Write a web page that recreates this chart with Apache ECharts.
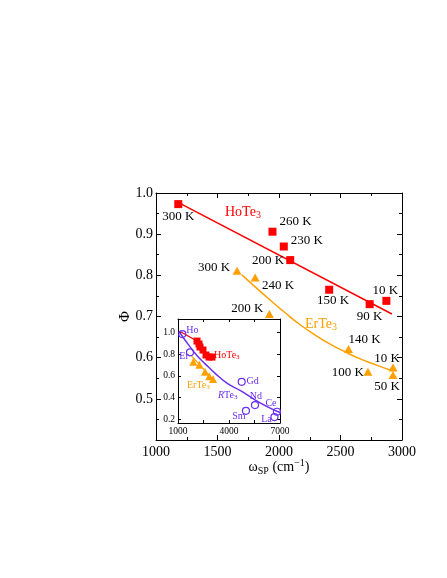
<!DOCTYPE html>
<html>
<head>
<meta charset="utf-8">
<script src="https://cdn.jsdelivr.net/npm/echarts@6/dist/echarts.min.js"></script>
<style>
  html, body { margin: 0; padding: 0; background: #fff; }
  #chart { width: 447px; height: 578px; }
</style>
</head>
<body>
<div id="chart"></div>
<script>
// main panel: HoTe3 (squares) and ErTe3 (triangles)
const hoTemps = ['300 K', '260 K', '230 K', '200 K', '150 K', '90 K', '10 K'];
const hoOmega = [1181, 1947, 2039, 2091, 2408, 2737, 2873];
const hoPhi = [0.973, 0.906, 0.870, 0.837, 0.765, 0.730, 0.738];
const hoFitOmega = [1195, 2918];
const hoFitPhi = [0.975, 0.706];

const erTemps = ['300 K', '240 K', '200 K', '140 K', '100 K', '10 K', '50 K'];
const erOmega = [1659, 1806, 1922, 2565, 2723, 2927, 2927];
const erPhi = [0.811, 0.795, 0.706, 0.621, 0.566, 0.576, 0.558];
const erFitOmega = [1698, 1806, 1928, 2050, 2172, 2294, 2416, 2538, 2660, 2782, 2921];
const erFitPhi = [0.801, 0.772, 0.740, 0.709, 0.680, 0.655, 0.633, 0.614, 0.597, 0.583, 0.568];

// inset: RTe3 series
const rNames = ['Ho', 'Er', 'Gd', 'Nd', 'Sm', 'Ce', 'La'];
const rOmega = [1253, 1706, 4746, 5528, 4998, 6821, 6674];
const rPhi = [0.986, 0.817, 0.544, 0.329, 0.276, 0.267, 0.218];
const rFitOmega = [1100, 1600, 2100, 2600, 3200, 3900, 4700, 5500, 6300, 7000];
const rFitPhi = [1.0, 0.89, 0.79, 0.71, 0.62, 0.53, 0.46, 0.38, 0.31, 0.26];

const insetHoOmega = [2117, 2235, 2294, 2470, 2646, 2823, 2999];
const insetHoPhi = [0.921, 0.894, 0.866, 0.838, 0.792, 0.773, 0.773];
const insetHoLineOmega = [1120, 2117];
const insetHoLinePhi = [1.01, 0.921];
const insetErOmega = [1900, 2252, 2588, 2840, 3058];
const insetErPhi = [0.730, 0.702, 0.637, 0.595, 0.569];
const insetErLineOmega = [1760, 3000];
const insetErLinePhi = [0.79, 0.575];

const insetXTicks = [1000, 2500, 4000, 5500, 7000];
const insetXLabels = [1000, 4000, 7000];
const insetYTicks = [0.2, 0.4, 0.6, 0.8, 1.0];

// label placement (pixel offsets from each marker)
const hoLabelOff = [[0, 12], [23, -10], [23, -6], [-22, 0], [4, 11], [0, 12], [-1, -10]];
const erLabelOff = [[-23, -3], [23, 8], [-22, -5], [16, -9], [-20, 1], [-6, -9], [-6, 12]];
const rLabelOff = [[10, -4], [-6, 4], [11, 0], [1, -9], [-7, 6], [-6, -8], [-8, 2]];

const RED = '#ff0000';
const ORANGE = '#ffa000';
const PURPLE = '#6a2ff0';
const FONT = 'Liberation Serif';

const zip = (xs, ys) => xs.map((x, i) => [x, ys[i]]);

const labelled = (xs, ys, texts, offs, size, color) => xs.map((x, i) => ({
  value: [x, ys[i]],
  label: {
    show: true,
    position: 'inside',
    offset: offs[i],
    formatter: texts[i],
    color: color,
    fontFamily: FONT,
    fontSize: size
  }
}));

const frameAxis = (extra) => Object.assign({
  type: 'value',
  axisLine: { show: true, onZero: false, lineStyle: { color: '#000', width: 1 } },
  splitLine: { show: false },
  axisTick: { show: true, inside: true, length: 5, lineStyle: { color: '#000' } },
  axisLabel: { show: false }
}, extra);

const mainLabel = {
  show: true, color: '#000', fontFamily: FONT, fontSize: 14, margin: 5
};
const insetLabel = {
  show: true, color: '#000', fontFamily: FONT, fontSize: 9.5, margin: 3
};

const chart = echarts.init(document.getElementById('chart'));

const option = {
  backgroundColor: '#fff',
  animation: false,
  grid: [
    { left: 156, right: 45, top: 193, bottom: 138 },
    { left: 178, right: 167, top: 319, bottom: 155, show: true, backgroundColor: '#fff', borderWidth: 0, z: 3 }
  ],
  xAxis: [
    frameAxis({
      gridIndex: 0, min: 1000, max: 3000, interval: 500, position: 'bottom',
      minorTick: { show: true, splitNumber: 2, length: 3 },
      axisLabel: Object.assign({ formatter: v => String(v) }, mainLabel),
      name: '{w|ω}{s|SP}{w| (cm}{p|−1}{w|)}',
      nameLocation: 'middle', nameGap: 18, nameMoveOverlap: false,
      nameTextStyle: {
        color: '#000', fontFamily: FONT,
        rich: {
          w: { fontSize: 14, fontFamily: FONT, color: '#000' },
          s: { fontSize: 10, fontFamily: FONT, color: '#000', padding: [8, 0, 0, 0] },
          p: { fontSize: 10, fontFamily: FONT, color: '#000', padding: [0, 0, 8, 0] }
        }
      }
    }),
    frameAxis({
      gridIndex: 0, min: 1000, max: 3000, interval: 500, position: 'top',
      minorTick: { show: true, splitNumber: 2, length: 3 }
    }),
    frameAxis({
      gridIndex: 1, min: 1000, max: 7000, position: 'bottom',
      axisTick: { show: true, inside: true, length: 3, customValues: insetXTicks, lineStyle: { color: '#000' } },
      axisLabel: Object.assign({ customValues: insetXLabels, formatter: v => String(v) }, insetLabel),
      z: 4
    }),
    frameAxis({
      gridIndex: 1, min: 1000, max: 7000, position: 'top',
      axisTick: { show: true, inside: true, length: 3, customValues: insetXTicks, lineStyle: { color: '#000' } },
      z: 4
    })
  ],
  yAxis: [
    frameAxis({
      gridIndex: 0, min: 0.4, max: 1.0, interval: 0.1, position: 'left',
      minorTick: { show: true, splitNumber: 2, length: 3 },
      axisLabel: Object.assign({ showMinLabel: false, formatter: v => v.toFixed(1) }, mainLabel, { margin: 3 }),
      name: 'Φ', nameLocation: 'middle', nameGap: 23, nameRotate: 90, nameMoveOverlap: false,
      nameTextStyle: { color: '#000', fontFamily: FONT, fontSize: 15 }
    }),
    frameAxis({
      gridIndex: 0, min: 0.4, max: 1.0, interval: 0.1, position: 'right',
      minorTick: { show: true, splitNumber: 2, length: 3 }
    }),
    frameAxis({
      gridIndex: 1, min: 0.163, max: 1.125, position: 'left',
      axisTick: { show: true, inside: true, length: 3, customValues: insetYTicks, lineStyle: { color: '#000' } },
      axisLabel: Object.assign({ customValues: insetYTicks, formatter: v => v.toFixed(1) }, insetLabel),
      z: 4
    }),
    frameAxis({
      gridIndex: 1, min: 0.163, max: 1.125, position: 'right',
      axisTick: { show: true, inside: true, length: 3, customValues: insetYTicks, lineStyle: { color: '#000' } },
      z: 4
    })
  ],
  series: [
    {
      type: 'line', xAxisIndex: 0, yAxisIndex: 0, data: zip(hoFitOmega, hoFitPhi),
      symbol: 'none', lineStyle: { color: RED, width: 1.5 }, z: 2
    },
    {
      type: 'line', xAxisIndex: 0, yAxisIndex: 0, data: zip(erFitOmega, erFitPhi),
      smooth: true, symbol: 'none', lineStyle: { color: ORANGE, width: 1.5 }, z: 2
    },
    {
      type: 'scatter', xAxisIndex: 0, yAxisIndex: 0,
      data: labelled(hoOmega, hoPhi, hoTemps, hoLabelOff, 13, '#000'),
      symbol: 'rect', symbolSize: 8, itemStyle: { color: RED, opacity: 1 }, z: 3
    },
    {
      type: 'scatter', xAxisIndex: 0, yAxisIndex: 0,
      data: labelled(erOmega, erPhi, erTemps, erLabelOff, 13, '#000'),
      symbol: 'triangle', symbolSize: [9, 8], itemStyle: { color: ORANGE, opacity: 1 }, z: 3
    },
    // inset
    {
      type: 'line', xAxisIndex: 2, yAxisIndex: 2, data: zip(rFitOmega, rFitPhi),
      smooth: true, symbol: 'none', lineStyle: { color: PURPLE, width: 1.5 }, z: 5
    },
    {
      type: 'line', xAxisIndex: 2, yAxisIndex: 2, data: zip(insetHoLineOmega, insetHoLinePhi),
      symbol: 'none', lineStyle: { color: RED, width: 1.2 }, z: 5
    },
    {
      type: 'line', xAxisIndex: 2, yAxisIndex: 2, data: zip(insetErLineOmega, insetErLinePhi),
      symbol: 'none', lineStyle: { color: ORANGE, width: 1.2 }, z: 5
    },
    {
      type: 'scatter', xAxisIndex: 2, yAxisIndex: 2, data: zip(insetHoOmega, insetHoPhi),
      symbol: 'rect', symbolSize: 7, itemStyle: { color: RED, opacity: 1 }, z: 5
    },
    {
      type: 'scatter', xAxisIndex: 2, yAxisIndex: 2, data: zip(insetErOmega, insetErPhi),
      symbol: 'triangle', symbolSize: 8, itemStyle: { color: ORANGE, opacity: 1 }, z: 5
    },
    {
      type: 'scatter', xAxisIndex: 2, yAxisIndex: 2,
      data: labelled(rOmega, rPhi, rNames, rLabelOff, 10, PURPLE),
      symbol: 'circle', symbolSize: 7,
      itemStyle: { color: 'rgba(0,0,0,0)', borderColor: PURPLE, borderWidth: 1.2, opacity: 1 }, z: 6
    }
  ],
  graphic: [
    {
      type: 'text', left: 225, top: 205, z: 10,
      style: {
        text: '{a|HoTe}{b|3}',
        rich: {
          a: { fontSize: 14, fontFamily: FONT, fill: RED },
          b: { fontSize: 10, fontFamily: FONT, fill: RED, padding: [7, 0, 0, 0] }
        }
      }
    },
    {
      type: 'text', left: 305, top: 317, z: 10,
      style: {
        text: '{a|ErTe}{b|3}',
        rich: {
          a: { fontSize: 14, fontFamily: FONT, fill: ORANGE },
          b: { fontSize: 10, fontFamily: FONT, fill: ORANGE, padding: [7, 0, 0, 0] }
        }
      }
    },
    {
      type: 'text', left: 214, top: 350, z: 10,
      style: {
        text: '{a|HoTe}{b|3}',
        rich: {
          a: { fontSize: 10, fontFamily: FONT, fill: RED },
          b: { fontSize: 7, fontFamily: FONT, fill: RED, padding: [5, 0, 0, 0] }
        }
      }
    },
    {
      type: 'text', left: 187, top: 380, z: 10,
      style: {
        text: '{a|ErTe}{b|3}',
        rich: {
          a: { fontSize: 10, fontFamily: FONT, fill: ORANGE },
          b: { fontSize: 7, fontFamily: FONT, fill: ORANGE, padding: [5, 0, 0, 0] }
        }
      }
    },
    {
      type: 'text', left: 218, top: 390, z: 10,
      style: {
        text: '{i|R}{a|Te}{b|3}',
        rich: {
          i: { fontSize: 10, fontFamily: FONT, fontStyle: 'italic', fill: PURPLE },
          a: { fontSize: 10, fontFamily: FONT, fill: PURPLE },
          b: { fontSize: 7, fontFamily: FONT, fill: PURPLE, padding: [5, 0, 0, 0] }
        }
      }
    }
  ]
};

chart.setOption(option);
</script>
</body>
</html>
